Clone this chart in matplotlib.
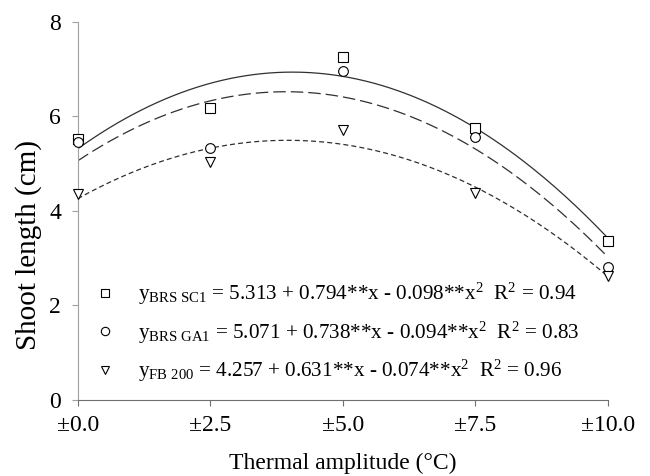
import numpy as np
import matplotlib
matplotlib.use('Agg')
import matplotlib.pyplot as plt
from matplotlib.lines import Line2D

plt.rcParams['font.family'] = 'Liberation Serif'
plt.rcParams['mathtext.fontset'] = 'custom'
plt.rcParams['mathtext.rm'] = 'Liberation Serif'
plt.rcParams['mathtext.it'] = 'Liberation Serif'

# thermal amplitude (deg C) and shoot length (cm)
amplitude = [0.0, 2.5, 5.0, 7.5, 10.0]
tick_labels = ['\u00b10.0', '\u00b12.5', '\u00b15.0', '\u00b17.5', '\u00b110.0']
brs_sc1 = [5.51, 6.17, 7.25, 5.75, 3.36]
brs_ga1 = [5.46, 5.34, 6.96, 5.57, 2.80]
fb_200 = [4.35, 5.03, 5.72, 4.38, 2.62]

eq_labels = [
    r'$\mathrm{y_{BRS\ SC1}}$ = 5.313 + 0.794**x - 0.098**x$^\mathrm{2}$  R$^\mathrm{2}$ = 0.94',
    r'$\mathrm{y_{BRS\ GA1}}$ = 5.071 + 0.738**x - 0.094**x$^\mathrm{2}$  R$^\mathrm{2}$ = 0.83',
    r'$\mathrm{y_{FB\ 200}}$ = 4.257 + 0.631**x - 0.074**x$^\mathrm{2}$  R$^\mathrm{2}$ = 0.96',
]

def main():
    fig = plt.figure(figsize=(6.5, 4.76), dpi=100)
    ax = fig.add_axes([0.1195, 0.1607, 0.8155, 0.7931])

    xs = np.linspace(0, 10, 200)
    series = [brs_sc1, brs_ga1, fb_200]
    markers = ['s', 'o', 'v']
    styles = ['-', (0, (10, 4)), (0, (4, 2.5))]
    handles = []
    for ys, m, ls in zip(series, markers, styles):
        coef = np.polyfit(amplitude, ys, 2)  # quadratic trend line
        ax.plot(xs, np.polyval(coef, xs), color='#303030', lw=0.9, ls=ls)
        ax.plot(amplitude, ys, ls='none', marker=m, ms=7, mfc='white',
                mec='black', mew=0.8, clip_on=False, zorder=5)
        handles.append(Line2D([], [], ls='none', marker=m, ms=6, mfc='white',
                              mec='black', mew=0.8))

    ax.set_xlim(0, 10)
    ax.set_ylim(0, 8)
    ax.set_xticks(amplitude)
    ax.set_xticklabels(tick_labels)
    ax.set_yticks([0, 2, 4, 6, 8])
    ax.spines['top'].set_visible(False)
    ax.spines['right'].set_visible(False)
    ax.spines['left'].set_color('#a0a0a0')
    ax.spines['bottom'].set_color('#707070')
    ax.tick_params(axis='y', colors='#a0a0a0', labelcolor='black', length=4,
                   labelsize=17, pad=8)
    ax.tick_params(axis='x', colors='#707070', labelcolor='black', length=4,
                   labelsize=17, pad=7)
    ax.set_xlabel('Thermal amplitude (\u00b0C)', fontsize=17, labelpad=12)
    ax.set_ylabel('Shoot length (cm)', fontsize=21)
    ax.yaxis.set_label_coords(-0.068, 0.41)  # label sits a bit low in the original

    ax.legend(handles, eq_labels, loc='lower left', bbox_to_anchor=(-0.005, -0.01),
              frameon=False, fontsize=15.2, handlelength=1.0, handletextpad=1.1,
              labelspacing=0.58)

    fig.savefig('out.png', dpi=100)

if __name__ == '__main__':
    main()
